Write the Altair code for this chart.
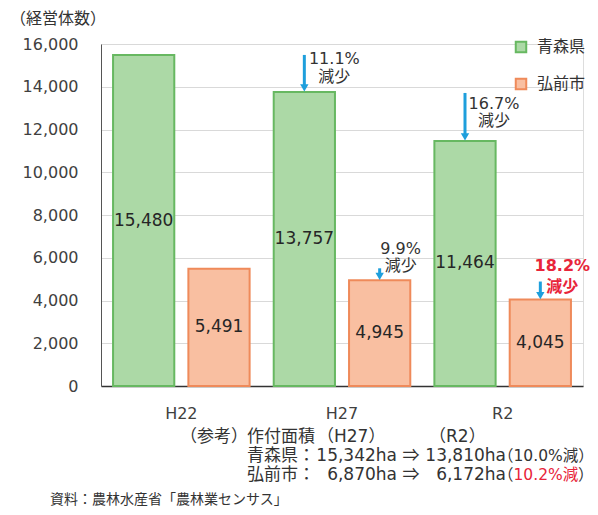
import altair as alt
import pandas as pd

# ---- data ----
years = ["H22", "H27", "R2"]
regions = ["青森県", "弘前市"]
aomori = [15480, 13757, 11464]
hirosaki = [5491, 4945, 4045]

ann_years = ["H27", "R2", "H27", "R2"]
ann_regions = ["青森県", "青森県", "弘前市", "弘前市"]
ann_pcts = ["11.1%", "16.7%", "9.9%", "18.2%"]
ann_word = "減少"

y_ticks = [0, 2000, 4000, 6000, 8000, 10000, 12000, 14000, 16000]
y_title = "（経営体数）"
note_header = ["（参考）", "作付面積", "（H27）", "（R2）"]
note_row1 = ["青森県：", "15,342ha", "⇒", "13,810ha", "（10.0%減）"]
note_row2 = ["弘前市：", "6,870ha", "⇒", "6,172ha", "（", "10.2%減", "）"]
source_text = "資料：農林水産省「農林業センサス」"

# ---- styles ----
FILL = ["#acd9a6", "#f9bfa1"]
STROKE = ["#67b861", "#ef8a5a"]
ARROW = "#1e9fdc"
RED = "#e8253a"
TXT = "#333333"
LATIN = "DejaVu Sans, Noto Sans CJK JP"
CJK = "Noto Sans CJK JP"

rows = []
for y, a, h in zip(years, aomori, hirosaki):
    rows.append({"year": y, "region": regions[0], "value": a})
    rows.append({"year": y, "region": regions[1], "value": h})
df = pd.DataFrame(rows)
df["label"] = df["value"].map(lambda v: f"{v:,}")

x_enc = alt.X("year:N", sort=years, scale=alt.Scale(paddingInner=0, paddingOuter=0),
              axis=alt.Axis(title=None, labelAngle=0, ticks=False, labelFontSize=16,
                            labelFont="DejaVu Sans", labelColor="#404040", labelPadding=19,
                            domainColor="#333333", domainWidth=1.5, grid=False))
xo_enc = alt.XOffset("region:N", sort=regions,
                     scale=alt.Scale(domain=regions, paddingInner=0.187, paddingOuter=0.16))
y_scale = alt.Scale(domain=[0, 16000], nice=False)

legend = alt.Legend(title=None, orient="none", legendX=412, legendY=-5,
                    symbolType="square", symbolSize=110, symbolStrokeWidth=2,
                    labelFont=CJK, labelFontSize=16, labelColor=TXT,
                    labelOffset=8, rowPadding=17, padding=0)

base = alt.Chart(df)

bars = base.mark_bar(strokeWidth=2).encode(
    x=x_enc,
    xOffset=xo_enc,
    y=alt.Y("value:Q", scale=y_scale,
            axis=alt.Axis(title=None, values=y_ticks, format=",d", ticks=False,
                          labelFontSize=16, labelFont="DejaVu Sans", labelColor="#404040",
                          labelPadding=23, domainColor="#555555", gridColor="#d9d9d9")),
    fill=alt.Fill("region:N", scale=alt.Scale(domain=regions, range=FILL), legend=legend),
    stroke=alt.Stroke("region:N", scale=alt.Scale(domain=regions, range=STROKE), legend=legend),
)

values = base.transform_calculate(mid="datum.value / 2").mark_text(
    font="DejaVu Sans", fontSize=17, color="#262626"
).encode(
    x=alt.X("year:N", sort=years),
    xOffset=xo_enc,
    y=alt.Y("mid:Q", scale=y_scale),
    text="label:N",
)

layers = [bars, values]

# annotation styles: arrow length, text dx, pct dy, word dy, color, weight
arrow_len = [37, 48, 12, 18]
text_dx = [30, 29, 21, 22]
pct_dy = [-33, -37, -31, -34]
word_dy = [-15, -20, -14, -13]
colors = [TXT, TXT, TXT, RED]
weights = ["normal", "normal", "normal", "bold"]

for i, (yr, rg, pct) in enumerate(zip(ann_years, ann_regions, ann_pcts)):
    sub = base.transform_filter(
        (alt.datum.year == yr) & (alt.datum.region == rg)
    ).transform_calculate(pct=f"'{pct}'", word=f"'{ann_word}'")
    enc = dict(x=alt.X("year:N", sort=years), xOffset=xo_enc,
               y=alt.Y("value:Q", scale=y_scale))
    shaft = sub.mark_rule(color=ARROW, strokeWidth=3, yOffset=-arrow_len[i],
                          y2Offset=-6).encode(y2=alt.Y2("value:Q"), **enc)
    head = sub.mark_point(shape="triangle-down", filled=True, color=ARROW, size=70,
                          opacity=1, yOffset=-4).encode(**enc)
    t1 = sub.mark_text(font=LATIN, fontSize=16, fontWeight=weights[i], color=colors[i],
                       dx=text_dx[i], dy=pct_dy[i]).encode(text="pct:N", **enc)
    t2 = sub.mark_text(font=CJK, fontSize=16, fontWeight=weights[i], color=colors[i],
                       dx=text_dx[i], dy=word_dy[i]).encode(text="word:N", **enc)
    layers += [shaft, head, t1, t2]


def note(text, x, y, align="left", color=TXT, size=17, font=LATIN):
    return alt.Chart(pd.DataFrame({"t": [text]})).mark_text(
        align=align, baseline="middle", font=font, fontSize=size, color=color
    ).encode(text="t:N", x=alt.value(x), y=alt.value(y))


# y title
layers.append(note(y_title, -91, -25, size=16, font=CJK))

# notes under the axis
hy, r1y, r2y = 393, 412, 431
layers += [
    note(note_header[0], 79, hy),
    note(note_header[1], 146, hy),
    note(note_header[2], 216, hy),
    note(note_header[3], 328, hy),
    note(note_row1[0], 146, r1y),
    note(note_row1[1], 296, r1y, align="right"),
    note(note_row1[2], 310, r1y, align="center", font=CJK),
    note(note_row1[3], 405, r1y, align="right"),
    note(note_row1[4], 397, r1y, size=15.5),
    note(note_row2[0], 146, r2y),
    note(note_row2[1], 296, r2y, align="right"),
    note(note_row2[2], 310, r2y, align="center", font=CJK),
    note(note_row2[3], 405, r2y, align="right"),
    note(note_row2[4], 397, r2y, size=15.5),
    note(note_row2[5], 412.5, r2y, color=RED, size=15.5),
    note(note_row2[6], 477, r2y, size=15.5),
    note(source_text, -51, 456, size=14, font=CJK),
]

chart = alt.layer(*layers).properties(
    width=482, height=342,
    autosize=alt.AutoSizeParams(type="none"),
    padding={"left": 93, "top": 36, "right": 7, "bottom": 121},
).configure_view(stroke=None).configure(background="white")

chart.save("out.html", embed_options={"renderer": "svg", "actions": False})
